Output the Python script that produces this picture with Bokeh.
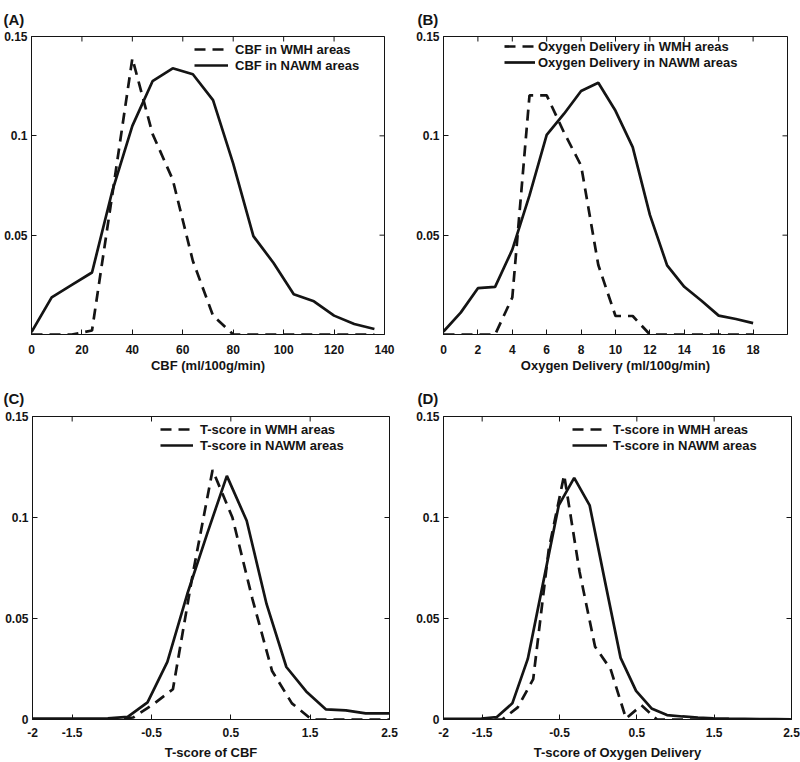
import math
from bokeh.plotting import figure
from bokeh.models import Legend, LegendItem, FixedTicker, Range1d, NumeralTickFormatter
from bokeh.layouts import column, row
from bokeh.embed import file_html
from bokeh.resources import INLINE

# ---------------- data ----------------
# (A) CBF
a_x = [0, 8, 16, 24, 32, 40, 48, 56, 64, 72, 80, 88, 96, 104, 112, 120, 128, 136]
a_nawm = [0.0012, 0.0187, 0.025, 0.0312, 0.072, 0.105, 0.1275, 0.134, 0.131, 0.118,
          0.086, 0.0495, 0.036, 0.0203, 0.0167, 0.0095, 0.0053, 0.0028]
a_wmh = [0, 0, 0, 0.002, 0.07, 0.139, 0.101, 0.078, 0.037, 0.0095,
         0, 0, 0, 0, 0, 0, 0, 0]

# (B) Oxygen delivery
b_x = [0, 1, 2, 3, 4, 5, 6, 7, 8, 9, 10, 11, 12, 13, 14, 15, 16, 17, 18]
b_nawm = [0.0015, 0.011, 0.0233, 0.024, 0.0427, 0.07, 0.1005, 0.111, 0.1226, 0.1267,
          0.1126, 0.0943, 0.0602, 0.0348, 0.024, 0.017, 0.0095, 0.0078, 0.0057]
b_wmh = [0, 0, 0, 0, 0.0186, 0.1204, 0.1204, 0.1018, 0.085, 0.035,
         0.0093, 0.0093, 0, 0, 0, 0, 0, 0, 0]

# (C) T-score of CBF
c_x_nawm = [-2.05, -1.8, -1.55, -1.3, -1.05, -0.8, -0.55, -0.3, -0.05, 0.2, 0.45, 0.7,
            0.95, 1.2, 1.45, 1.7, 1.95, 2.2, 2.5]
c_nawm = [0.0005, 0.0005, 0.0005, 0.0005, 0.0006, 0.0013, 0.0085, 0.0285, 0.062, 0.0918,
          0.1206, 0.0984, 0.0572, 0.026, 0.0139, 0.005, 0.0045, 0.003, 0.003]
c_x_wmh = [-1.98, -1.73, -1.48, -1.23, -0.98, -0.73, -0.48, -0.23, 0.02, 0.27, 0.52, 0.77,
           1.02, 1.27, 1.52, 1.77, 2.02, 2.27, 2.52]
c_wmh = [0, 0, 0, 0, 0, 0.001, 0.0075, 0.015, 0.072, 0.1235, 0.1, 0.06,
         0.024, 0.008, 0, 0, 0, 0, 0]

# (D) T-score of oxygen delivery
d_x_nawm = [-2.11, -1.91, -1.71, -1.51, -1.31, -1.11, -0.91, -0.71, -0.51, -0.31, -0.11, 0.09,
            0.29, 0.49, 0.69, 0.89, 1.09, 1.29, 1.49, 1.69, 1.89, 2.09, 2.29, 2.49]
d_nawm = [0.0003, 0.0003, 0.0003, 0.0005, 0.0012, 0.008, 0.03, 0.068, 0.106, 0.1196, 0.106, 0.068,
          0.0305, 0.0142, 0.0055, 0.0022, 0.0015, 0.001, 0.0006, 0.0004, 0.0003, 0.0002, 0.0002, 0.0001]
d_x_wmh = [-2.04, -1.84, -1.64, -1.44, -1.24, -1.04, -0.84, -0.64, -0.44, -0.24, -0.04, 0.16,
           0.36, 0.56, 0.76, 0.96, 1.16, 1.36, 1.56, 1.76, 1.96, 2.16, 2.36, 2.56]
d_wmh = [0, 0, 0, 0, 0, 0.006, 0.02, 0.084, 0.121, 0.073, 0.036, 0.025,
         0.0005, 0.007, 0, 0, 0, 0, 0, 0, 0, 0, 0, 0]

ticks_a = [0, 20, 40, 60, 80, 100, 120, 140]
ticks_b = [0, 2, 4, 6, 8, 10, 12, 14, 16, 18]
ticks_t = [-2, -1.5, -0.5, 0.5, 1.5, 2.5]
yticks_top = [0.05, 0.1, 0.15]
yticks_bottom = [0, 0.05, 0.1, 0.15]

FONT = "Liberation Sans"
INK = "#141414"


def style_axis(ax):
    ax.major_tick_in = 5
    ax.major_tick_out = 0
    ax.minor_tick_line_color = None
    ax.major_tick_line_color = INK
    ax.axis_line_color = INK
    ax.major_label_text_font = FONT
    ax.major_label_text_font_style = "bold"
    ax.major_label_text_font_size = "12px"
    ax.major_label_text_color = INK
    ax.axis_label_text_font = FONT
    ax.axis_label_text_font_style = "bold"
    ax.axis_label_text_font_size = "13px"
    ax.axis_label_text_color = INK


def panel(letter, xs_nawm, ys_nawm, xs_wmh, ys_wmh, xr, xticks, yticks, xlabel,
          lab_wmh, lab_nawm, w, h, bl, br, bt, bb, leg_loc, glyph_w, standoff,
          title_off, title_standoff, tick_standoff, label_standoff, xfmt):
    p = figure(width=w, height=h, x_range=Range1d(*xr), y_range=Range1d(0, 0.15),
               output_backend="svg", toolbar_location=None,
               min_border_left=bl, min_border_right=br, min_border_top=bt, min_border_bottom=bb)
    p.background_fill_color = "white"
    p.border_fill_color = "white"
    p.outline_line_color = INK
    p.outline_line_width = 1
    p.outline_line_alpha = 1
    p.grid.visible = False

    p.title.text = letter
    p.title.text_font = FONT
    p.title.text_font_style = "bold"
    p.title.text_font_size = "15px"
    p.title.text_color = INK
    p.title.align = "left"
    p.title.offset = title_off
    p.title.standoff = title_standoff

    p.xaxis.ticker = FixedTicker(ticks=xticks)
    p.yaxis.ticker = FixedTicker(ticks=yticks)
    p.yaxis.formatter = NumeralTickFormatter(format="0.[00]")
    if xfmt:
        p.xaxis.formatter = NumeralTickFormatter(format="0.[0]")
    p.xaxis.axis_label = xlabel
    style_axis(p.xaxis[0])
    style_axis(p.yaxis[0])
    p.xaxis.major_label_standoff = tick_standoff
    p.xaxis.axis_label_standoff = label_standoff
    p.yaxis.major_label_standoff = 4

    # inward tick marks on the top and right edges of the box (half of each dash is clipped by the frame)
    p.scatter(x=xticks, y=[0.15] * len(xticks), marker="dash", size=10,
              angle=math.pi / 2, line_color=INK, line_width=1)
    p.scatter(x=[xr[1]] * len(yticks), y=yticks, marker="dash", size=10,
              line_color=INK, line_width=1)

    r_w = p.line(xs_wmh, ys_wmh, line_color=INK, line_width=2.7, line_dash="11 7")
    r_n = p.line(xs_nawm, ys_nawm, line_color=INK, line_width=2.7)

    leg = Legend(items=[LegendItem(label=lab_wmh, renderers=[r_w]),
                        LegendItem(label=lab_nawm, renderers=[r_n])],
                 location=leg_loc, orientation="vertical", padding=0, margin=0, spacing=0,
                 glyph_width=glyph_w, glyph_height=16, label_height=16, label_standoff=standoff,
                 background_fill_alpha=0, border_line_alpha=0,
                 label_text_font=FONT, label_text_font_style="bold",
                 label_text_font_size="13px", label_text_color=INK)
    p.add_layout(leg)
    return p


pA = panel("(A)", a_x, a_nawm, a_x, a_wmh, (0, 140), ticks_a, yticks_top,
           "CBF (ml/100g/min)", "CBF in WMH areas", "CBF in NAWM areas",
           400, 378, 31, 16, 34, 44, (163, 261), 34, 7, -28, 17, 10, 1, False)
pB = panel("(B)", b_x, b_nawm, b_x, b_wmh, (0, 20), ticks_b, yticks_top,
           "Oxygen Delivery (ml/100g/min)", "Oxygen Delivery in WMH areas",
           "Oxygen Delivery in NAWM areas",
           400, 378, 43, 13, 34, 44, (61, 264), 31, 3, -26, 17, 10, 1, False)
pC = panel("(C)", c_x_nawm, c_nawm, c_x_wmh, c_wmh, (-2, 2.5), ticks_t, yticks_bottom,
           "T-score of CBF", "T-score in WMH areas", "T-score in NAWM areas",
           400, 384, 32, 11, 36, 42, (128, 266), 33, 7, -29, 19, 8, 5, True)
pD = panel("(D)", d_x_nawm, d_nawm, d_x_wmh, d_wmh, (-2, 2.5), ticks_t, yticks_bottom,
           "T-score of Oxygen Delivery", "T-score in WMH areas", "T-score in NAWM areas",
           400, 384, 43, 9, 36, 42, (129, 266), 35, 6, -26, 19, 8, 5, True)

layout = column(row(pA, pB), row(pC, pD))
open("out.html", "w").write(file_html(layout, INLINE))
